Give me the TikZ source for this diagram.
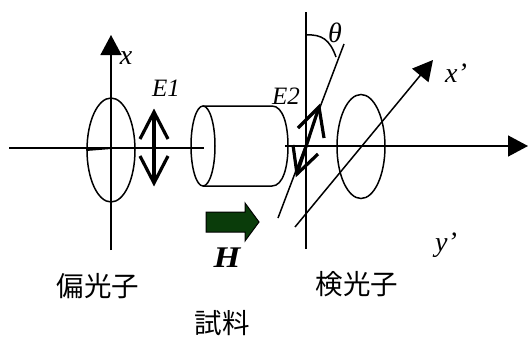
\documentclass[tikz,border=0pt]{standalone}
\usepackage{fontspec}
\setmainfont{Liberation Serif}
\newfontfamily\cjk{Noto Sans CJK JP}
\usetikzlibrary{arrows.meta,shapes.geometric}
\definecolor{fieldgreen}{RGB}{10,60,10}
\tikzset{
  axisline/.style={line width=1.5pt,black},
  biglabel/.style={inner sep=0pt,font=\fontsize{25}{25}\selectfont\itshape},
  axislabel/.style={inner sep=0pt,font=\fontsize{28}{28}\selectfont\itshape},
  cjklabel/.style={inner sep=0pt,font=\fontsize{27.5}{28}\selectfont\cjk},
  lens/.style={draw,ellipse,line width=1.5pt,inner sep=0pt,minimum width=48pt,minimum height=104pt},
  efield/.style={line width=3.2pt,miter limit=10},
  bigtip/.style={-{Triangle[length=20pt,width=21pt]}}
}
\begin{document}
\begin{tikzpicture}[x=1pt,y=-1pt]
  \useasboundingbox (0,0) rectangle (528,338);
  % polarizer and analyzer
  \node[lens] (pol) at (111,150) {};
  \node[lens] (ana) at (361,146.5) {};
  \node[lens,minimum width=24pt,minimum height=80pt] (cyl) at (203,146) {};

  % axes
  \coordinate (axL) at (9,148);
  \coordinate (axM) at (204,148);
  \coordinate (axN) at (285,146);
  \coordinate (axR) at (528,146);
  \coordinate (xb) at (111,250);
  \coordinate (xt) at (111,35);
  \coordinate (vb) at (306,249);
  \coordinate (vt) at (306,12);
  \coordinate (xpb) at (295,227);
  \coordinate (xpt) at (433,60);
  \coordinate (tb) at (278,218);
  \coordinate (tt) at (344,44);
  \draw[axisline] (axL) -- (axM);
  \draw[line width=2pt] (pol.west) -- (111,148);
  \draw[axisline,bigtip] (axN) -- (axR);
  \draw[axisline,bigtip] (xb) -- (xt);
  \draw[axisline] (vb) -- (vt);
  \draw[axisline,bigtip] (xpb) -- (xpt);
  \draw[axisline] (tb) -- (tt);

  % sample
  \coordinate (c1) at (203,106);
  \coordinate (c2) at (272,106);
  \coordinate (c3) at (272,186);
  \coordinate (c4) at (203,186);
  \draw[line width=1.5pt] (c1) -- (c2) .. controls (283,106) and (288,125) .. (288,146)
    .. controls (288,167) and (283,186) .. (c3) -- (c4);

  % E1
  \coordinate (e1t) at (154,112);
  \coordinate (e1b) at (154,183);
  \draw[efield] (e1t) -- (e1b);
  \draw[efield] (140,139) -- (e1t) -- (168,139);
  \draw[efield] (140,156) -- (e1b) -- (168,156);
  % E2
  \coordinate (e2t) at (319,107);
  \coordinate (e2b) at (297,174);
  \draw[efield] (e2t) -- (e2b);
  \draw[efield] (298,128) -- (e2t) -- (324,138);
  \draw[efield] (293,145) -- (e2b) -- (318,154);

  % theta
  \coordinate (th1) at (306,35);
  \coordinate (th2) at (336,57);
  \draw[line width=1.5pt] (th1) .. controls (322,34) and (330,40) .. (th2);

  % field arrow
  \draw[line width=1pt,fill=fieldgreen] (206,212) -- (245,212) -- (245,203) -- (259,222)
    -- (245,241) -- (245,232) -- (206,232) -- cycle;

  % labels
  \node[axislabel] (xl) at (126,58) {x};
  \node[biglabel] (e1l) at (166,88) {E1};
  \node[biglabel] (e2l) at (286,96) {E2};
  \node[axislabel] (thl) at (335,33) {θ};
  \node[axislabel] (xpl) at (456,73) {x’};
  \node[axislabel] (ypl) at (446,245) {y’};
  \node[inner sep=0pt,font=\fontsize{30}{30}\selectfont\bfseries\itshape] (hl) at (227,258) {\scalebox{1.15}[1]{H}};
  \node[cjklabel] (polname) at (98,286) {偏光子};
  \node[cjklabel] (ananame) at (357,284) {検光子};
  \node[cjklabel] (samname) at (222,323) {試料};
\end{tikzpicture}
\end{document}
